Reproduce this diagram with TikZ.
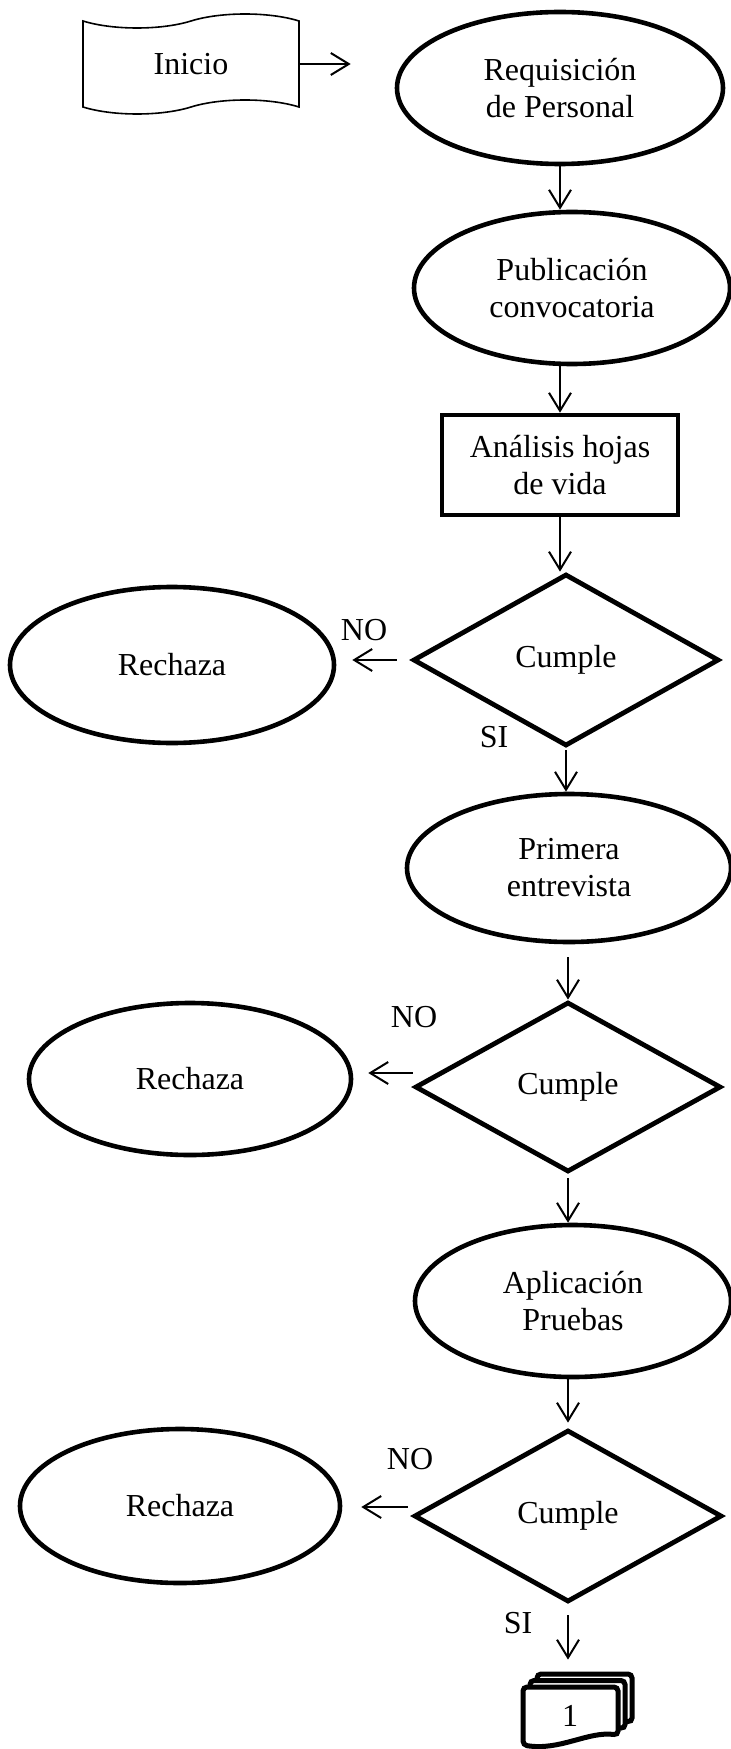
\documentclass[tikz,border=0pt]{standalone}
\usepackage{fontspec}
\setmainfont{Liberation Serif}
\usepackage{tikz}
\usetikzlibrary{shapes, arrows.meta, positioning}
\tikzstyle{every node} = [font=\fontsize{16}{18.5}\selectfont]
\tikzstyle{->}    = [line width=1pt, -{Straight Barb[length=9pt, width=11pt]}]
\tikzstyle{elip}  = [draw, ellipse, line width=2.3pt, align=center, inner sep=0pt, minimum width=160pt, minimum height=76pt]
\tikzstyle{rombo} = [draw, diamond, line width=2.4pt, inner sep=0pt, minimum width=153pt, minimum height=86pt]
\tikzstyle{caja}  = [draw, rectangle, line width=2.3pt, align=center, minimum width=118pt, minimum height=50pt]
\tikzstyle{cinta} = [draw, tape, line width=0.8pt, tape bend height=7pt, minimum width=108pt, minimum height=50pt]
\tikzstyle{hoja}  = [draw, fill=white, line width=2.5pt, rounded corners=2pt]

\begin{document}
\begin{tikzpicture}[x=0.5pt, y=-0.5pt]
\useasboundingbox (0, 0) rectangle (731, 1749);

% nodes
\node [cinta]                                  at ( 191,   64 ) (ini)  {Inicio};
\node [elip, minimum width=163pt]              at ( 560,   88 ) (req)  {Requisición\\de Personal};
\node [elip, minimum width=158pt]              at ( 572,  288 ) (pub)  {Publicación\\convocatoria};
\node [caja]                                   at ( 560,  465 ) (ana)  {Análisis hojas\\de vida};
\node [rombo]                                  at ( 566,  660 ) (cum1) {Cumple};
\node [elip, minimum width=162pt, minimum height=78pt] at ( 172,  665 ) (rec1) {Rechaza};
\node [elip, minimum width=162pt, minimum height=74pt] at ( 569,  868 ) (pri)  {Primera\\entrevista};
\node [rombo, minimum height=85pt]             at ( 568, 1087 ) (cum2) {Cumple};
\node [elip, minimum width=161pt]              at ( 190, 1079 ) (rec2) {Rechaza};
\node [elip, minimum width=158pt]              at ( 573, 1301 ) (apl)  {Aplicación\\Pruebas};
\node [rombo, minimum width=154pt]             at ( 568, 1516 ) (cum3) {Cumple};
\node [elip, minimum width=160pt, minimum height=77pt] at ( 180, 1506 ) (rec3) {Rechaza};

% labels
\node at ( 364,  630 ) (no1) {NO};
\node at ( 494,  737 ) (si1) {SI};
\node at ( 414, 1017 ) (no2) {NO};
\node at ( 410, 1459 ) (no3) {NO};
\node at ( 518, 1623 ) (si3) {SI};

% documento multiple
\foreach \d in {2,1,0}
  \draw [hoja, shift={(7*\d, -6.5*\d)}] (523, 1687) -- (618, 1687) -- (618, 1735)
    .. controls (588, 1731) and (560, 1751) .. (523, 1745) -- cycle;
\node [minimum width=47.5pt, minimum height=29pt, inner sep=0pt] at ( 570, 1716 ) (doc) {1};

%  edges
\path [->]
  (ini.east)                  edge [shorten >=22pt]                    (ini.east -| req.west)
  (req.south)                 edge                                     (req.south |- pub.north)
  (ana.north |- pub.south)    edge                                     (ana.north)
  (ana.south)                 edge                                     (ana.south |- cum1.north)
  (cum1.west)                 edge [shorten <=7pt, shorten >=8pt]      (cum1.west -| rec1.east)
  (cum1.south)                edge [shorten <=1pt]                     (cum1.south |- pri.north)
  (cum2.north |- pri.south)   edge [shorten <=6.5pt]                   (cum2.north)
  ([yshift=7pt]cum2.west)     edge [shorten >=7.5pt]                   ([yshift=7pt]cum2.west -| rec2.east)
  (cum2.south)                edge [shorten <=2pt]                     (cum2.south |- apl.north)
  (cum3.north |- apl.south)   edge [shorten >=2.5pt]                   (cum3.north)
  ([yshift=4.5pt]cum3.west)   edge [shorten <=2pt, shorten >=9.5pt]    ([yshift=4.5pt]cum3.west -| rec3.east)
  (cum3.south)                edge [shorten <=5.5pt, shorten >=13.5pt] (cum3.south |- doc.north);

\end{tikzpicture}
\end{document}
